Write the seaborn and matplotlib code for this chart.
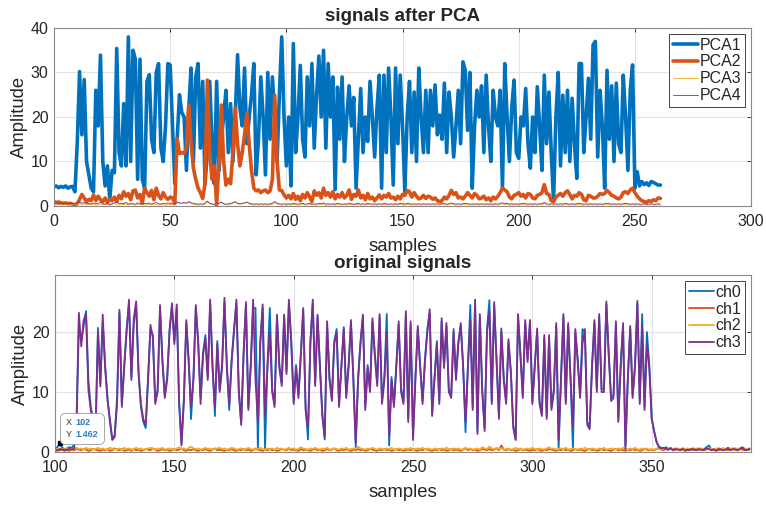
import numpy as np
import pandas as pd
import seaborn as sns
import matplotlib.pyplot as plt
from matplotlib.offsetbox import TextArea, HPacker, VPacker, AnnotationBbox

# ---- signals after PCA (sample 0..261) ----
pca1 = [4.3, 4.5, 4.1, 4.4, 4.2, 4.5, 4.0, 4.3, 4.4, 3.2,
        14, 30.2, 16, 28.4, 10, 7, 4, 3.2, 26, 18,
        33.9, 10, 4.5, 9, 1.5, 8, 7.5, 35.4, 12, 9,
        23, 9, 38, 10, 35, 33, 6, 33, 6, 4,
        28, 29.5, 15, 12, 30, 32, 13, 10, 18, 32,
        31.7, 18, 5, 15, 25, 21, 20, 8, 22, 31,
        10, 29, 32, 13, 28, 5, 12, 28, 15, 5,
        28, 8, 15, 20, 26, 12, 23, 10, 20, 34,
        22, 18, 31, 14, 20, 25, 32, 7, 15, 29,
        20, 7, 30, 15, 29, 20, 10, 25, 38, 20,
        9, 20, 4.5, 36.5, 12, 20, 31.6, 15, 11, 29,
        18, 32, 13, 25, 33.7, 20, 35, 13, 32, 20,
        29, 3.7, 26.7, 15, 29, 10, 20, 27, 18, 24.4,
        4, 15, 26.4, 12, 20, 14.5, 28, 20, 11, 22,
        29.4, 4, 29.4, 12, 31, 20, 4.7, 31, 14, 29.4,
        18, 3.2, 20, 28, 12, 25.6, 10, 31, 20, 12,
        26, 12, 26, 18, 27.2, 16, 20.4, 15, 27.6, 12,
        25.6, 20, 11, 18, 26, 14, 32.4, 30.5, 17, 30,
        4, 18, 26, 20, 27, 12, 29.4, 18, 10, 26,
        20, 18, 26, 4, 32, 20, 10, 22, 28.3, 12,
        10.7, 20, 18, 26.4, 14, 8.5, 20, 12, 26.8, 18,
        8, 29.4, 14, 25.6, 12, 1, 20, 30, 9, 24.9,
        12, 26, 10, 24.2, 14, 6.2, 32, 32, 12, 20,
        28.7, 15, 36.2, 37, 11, 26, 18, 4, 30.5, 15,
        27, 10, 27.6, 14, 12, 29.4, 20, 8, 26, 31.7,
        4, 7.7, 4.5, 5.5, 4.8, 5.2, 4.6, 5.5, 5.3, 5.0, 4.7, 4.7]

pca2 = [1.0, 0.8, 0.9, 0.7, 0.6, 0.7, 0.5, 0.6, 0.4, 0.3,
        0.5, 1.5, 2.6, 1.8, 1.0, 1.5, 1.2, 2.5, 1.2, 2.2,
        1.4, 1.0, 1.8, 0.8, 1.5, 1.2, 2.0, 1.0, 2.4, 1.6,
        3.2, 2.2, 2.8, 1.4, 3.4, 3.6, 1.8, 2.6, 0.6, 4.0,
        3.0, 2.2, 3.5, 1.4, 4.0, 2.4, 1.6, 3.0, 2.0, 1.5,
        2.0, 1.8, 0.6, 15.2, 11.8, 12.0, 11.8, 13.0, 22.7, 14.0,
        8.5, 6.0, 4.0, 3.0, 1.7, 5.0, 28.3, 12.0, 6.0, 9.0,
        0.2, 10.0, 22.7, 10.0, 4.7, 6.0, 5.0, 12.0, 22.0, 14.0,
        9.0, 12.0, 16.0, 20.8, 14.0, 8.0, 4.0, 3.4, 3.6, 3.0,
        3.4, 3.6, 3.0, 3.4, 6.0, 24.9, 10.0, 3.6, 3.5, 2.5,
        1.8, 2.4, 1.6, 2.8, 1.5, 2.2, 1.2, 2.6, 1.8, 3.0,
        2.0, 1.0, 3.4, 2.4, 3.0, 1.8, 4.0, 2.4, 3.0, 2.0,
        3.2, 1.6, 2.6, 2.0, 3.0, 1.8, 2.4, 3.6, 1.5, 2.6,
        2.2, 3.6, 1.8, 2.4, 1.4, 2.8, 1.6, 2.0, 1.2, 1.8,
        2.5, 1.6, 2.4, 2.0, 2.8, 1.8, 2.0, 1.4, 2.2, 1.6,
        2.6, 2.4, 3.5, 3.2, 2.0, 3.0, 2.2, 1.6, 1.8, 2.4,
        1.7, 2.2, 2.0, 1.5, 1.8, 1.2, 1.0, 1.2, 2.0, 1.6,
        2.4, 3.5, 2.6, 3.0, 1.8, 2.0, 1.6, 2.2, 3.0, 2.4,
        1.8, 2.8, 2.4, 1.6, 1.8, 2.2, 1.4, 1.8, 1.2, 2.0,
        1.6, 2.2, 3.0, 4.0, 3.6, 3.2, 2.0, 1.6, 2.4, 2.6,
        3.0, 2.2, 2.6, 1.8, 2.8, 2.6, 1.8, 1.6, 2.4, 2.6,
        3.0, 4.8, 2.8, 2.6, 1.2, 1.0, 2.0, 2.4, 2.8, 2.2,
        3.0, 3.4, 2.6, 1.6, 2.4, 2.2, 3.0, 2.6, 1.4, 1.2,
        2.4, 2.2, 1.8, 1.8, 2.2, 2.8, 2.6, 2.8, 3.5, 3.0,
        2.4, 2.2, 1.8, 1.6, 2.0, 3.0, 3.2, 2.8, 3.6, 4.0,
        3.0, 2.2, 1.6, 1.2, 1.0, 0.8, 1.2, 1.0, 1.4, 1.2, 1.8, 1.7]

pca3 = [0.3, 0.2, 0.4, 0.3, 0.2, 0.3, 0.4, 0.2, 0.3, 0.3,
        0.4, 0.6, 0.3, 0.5, 0.2, 0.4, 0.3, 0.5, 0.2, 0.3,
        0.4, 0.2, 0.5, 0.3, 0.2, 0.4, 0.6, 0.3, 0.2, 0.4,
        0.3, 0.5, 0.2, 0.4, 0.3, 0.2, 0.5, 0.3, 0.4, 0.2,
        0.3, 0.4, 0.2, 0.5, 0.3, 0.2, 0.4, 0.3, 0.2, 0.3,
        0.4, 0.3, 0.2, 0.8, 0.6, 0.5, 0.7, 0.6, 0.9, 0.5,
        0.4, 0.3, 0.2, 0.3, 0.2, 0.4, 1.0, 0.5, 0.3, 0.2,
        0.4, 0.5, 0.8, 0.4, 0.3, 0.2, 0.4, 0.6, 0.9, 0.5,
        0.4, 0.5, 0.6, 0.8, 0.5, 0.3, 0.2, 0.3, 0.2, 0.3,
        0.2, 0.3, 0.2, 0.3, 0.4, 0.9, 0.5, 0.3, 0.2, 0.3,
        0.2, 0.3, 0.2, 0.4, 0.3, 0.2, 0.3, 0.4, 0.2, 0.3,
        0.4, 0.2, 0.3, 0.2, 0.4, 0.3, 0.5, 0.2, 0.3, 0.2,
        0.3, 0.2, 0.4, 0.3, 0.2, 0.3, 0.2, 0.4, 0.3, 0.2,
        0.3, 0.4, 0.2, 0.3, 0.2, 0.4, 0.3, 0.2, 0.3, 0.2,
        0.3, 0.2, 0.4, 0.3, 0.2, 0.3, 0.2, 0.3, 0.2, 0.4,
        0.3, 0.2, 0.4, 0.3, 0.2, 0.3, 0.2, 0.3, 0.2, 0.3,
        0.2, 0.3, 0.2, 0.3, 0.2, 0.3, 0.2, 0.4, 0.3, 0.2,
        0.3, 0.5, 0.3, 0.2, 0.3, 0.2, 0.3, 0.4, 0.3, 0.2,
        0.3, 0.2, 0.3, 0.2, 0.3, 0.2, 0.3, 0.2, 0.3, 0.2,
        0.3, 0.2, 0.4, 0.5, 0.3, 0.4, 0.2, 0.3, 0.2, 0.3,
        0.2, 0.3, 0.4, 0.3, 0.2, 0.3, 0.2, 0.3, 0.2, 0.3,
        0.3, 0.6, 0.3, 0.2, 0.3, 0.2, 0.3, 0.2, 0.3, 0.2,
        0.4, 0.3, 0.2, 0.3, 0.2, 0.3, 0.4, 0.3, 0.2, 0.3,
        0.2, 0.3, 0.2, 0.3, 0.2, 0.3, 0.2, 0.3, 0.4, 0.3,
        0.2, 0.3, 0.2, 0.3, 0.2, 0.3, 0.4, 0.3, 0.2, 0.3,
        0.2, 0.3, 0.2, 0.2, 0.3, 0.2, 0.2, 0.3, 0.2, 0.2, 0.3, 0.2]

pca4 = [0.5, 0.6, 0.4, 0.5, 0.6, 0.5, 0.4, 0.6, 0.5, 0.4,
        0.7, 0.9, 0.6, 0.8, 0.5, 0.6, 0.4, 0.7, 0.5, 0.6,
        0.8, 0.5, 0.4, 0.6, 0.3, 0.5, 0.7, 0.9, 0.5, 0.6,
        0.5, 0.8, 0.4, 0.6, 0.5, 0.4, 0.7, 0.5, 0.4, 0.6,
        0.5, 0.7, 0.4, 0.6, 0.8, 0.5, 0.4, 0.6, 0.5, 0.7,
        0.6, 0.5, 0.4, 0.9, 0.7, 0.6, 0.8, 0.6, 1.0, 0.7,
        0.6, 0.5, 0.4, 0.5, 0.4, 0.6, 1.1, 0.6, 0.5, 0.3,
        0.5, 0.6, 0.9, 0.5, 0.4, 0.5, 0.6, 0.7, 1.0, 0.6,
        0.5, 0.6, 0.7, 0.9, 0.6, 0.5, 0.4, 0.5, 0.4, 0.5,
        0.4, 0.5, 0.4, 0.5, 0.6, 1.0, 0.6, 0.5, 0.4, 0.5,
        0.4, 0.5, 0.4, 0.6, 0.5, 0.4, 0.5, 0.6, 0.4, 0.5,
        0.6, 0.4, 0.5, 0.4, 0.6, 0.5, 0.7, 0.4, 0.5, 0.4,
        0.5, 0.4, 0.6, 0.5, 0.4, 0.5, 0.4, 0.6, 0.5, 0.4,
        0.5, 0.6, 0.4, 0.5, 0.4, 0.6, 0.5, 0.4, 0.5, 0.4,
        0.5, 0.4, 0.6, 0.5, 0.4, 0.5, 0.4, 0.5, 0.4, 0.6,
        0.5, 0.4, 0.6, 0.5, 0.4, 0.5, 0.4, 0.5, 0.4, 0.5,
        0.4, 0.5, 0.4, 0.5, 0.4, 0.5, 0.4, 0.6, 0.5, 0.4,
        0.5, 0.7, 0.5, 0.4, 0.5, 0.4, 0.5, 0.6, 0.5, 0.4,
        0.5, 0.4, 0.5, 0.4, 0.5, 0.4, 0.5, 0.4, 0.5, 0.4,
        0.5, 0.4, 0.6, 0.7, 0.5, 0.6, 0.4, 0.5, 0.4, 0.5,
        0.4, 0.5, 0.6, 0.5, 0.4, 0.5, 0.4, 0.5, 0.4, 0.5,
        0.5, 0.8, 0.5, 0.4, 0.5, 0.4, 0.5, 0.4, 0.5, 0.4,
        0.6, 0.5, 0.4, 0.5, 0.4, 0.5, 0.6, 0.5, 0.4, 0.5,
        0.4, 0.5, 0.4, 0.5, 0.4, 0.5, 0.4, 0.5, 0.6, 0.5,
        0.4, 0.5, 0.4, 0.5, 0.4, 0.5, 0.6, 0.5, 0.4, 0.5,
        0.4, 0.5, 0.4, 0.4, 0.5, 0.4, 0.4, 0.5, 0.4, 0.4, 0.5, 0.4]

# ---- original signals (sample 100..391) ----
ch0 = [0.6, 0.8, 1.462, 0.7, 0.5, 0.6, 0.8, 0.7, 1.2, 4.0,
       21.0, 18.5, 21.0, 23.5, 12.0, 7.5, 5.5, 3.0, 20.7, 11.5,
       21.5, 14.5, 9.0, 5.0, 2.2, 2.8, 9.0, 23.2, 8.0, 14.5,
       20.5, 24.8, 12.5, 21.5, 24.5, 13.5, 7.5, 5.0, 4.0, 12.5,
       20.5, 19.5, 8.5, 10.5, 23.8, 15.5, 9.5, 12.5, 20.5, 24.2,
       18.5, 24.0, 8.5, 1.5, 9.0, 21.5, 15.5, 5.5, 12.5, 24.0,
       18.5, 9.0, 16.5, 19.5, 12.5, 24.8, 14.5, 6.0, 18.5, 10.5,
       14.5, 25.0, 14.5, 7.0, 15.5, 20.5, 24.8, 10.5, 5.0, 16.5,
       24.5, 7.5, 14.5, 24.0, 24.0, 0.5, 18.5, 24.0, 0.5, 14.5,
       24.0, 10.5, 8.0, 22.5, 14.5, 11.5, 22.5, 13.5, 24.8, 18.5,
       8.5, 14.5, 9.5, 16.5, 23.5, 7.5, 2.1, 18.5, 24.8, 11.5,
       22.5, 14.5, 6.5, 2.1, 21.2, 12.5, 9.0, 18.5, 20.5, 8.0,
       14.5, 20.5, 9.5, 14.5, 21.5, 12.5, 0.8, 12.5, 18.5, 22.5,
       7.5, 14.5, 10.5, 21.8, 16.5, 11.5, 22.5, 8.5, 12.5, 23.0,
       1.1, 12.5, 8.0, 14.5, 21.2, 10.5, 8.5, 23.0, 5.5, 21.2,
       2.5, 12.5, 20.5, 14.5, 8.5, 15.5, 20.5, 23.2, 6.5, 12.5,
       18.5, 8.5, 21.8, 14.5, 21.0, 10.5, 9.5, 20.5, 12.5, 18.5,
       21.0, 14.5, 3.3, 14.5, 24.5, 7.5, 24.8, 3.5, 22.5, 10.5,
       4.0, 20.5, 25.3, 8.5, 24.5, 15.5, 6.0, 20.1, 12.5, 8.5,
       18.3, 13.5, 4.5, 2.1, 22.5, 16.5, 9.5, 21.5, 15.5, 21.5,
       8.5, 14.5, 20.1, 8.5, 6.5, 19.0, 6.0, 19.0, 7.5, 10.5,
       21.0, 0.5, 12.5, 22.5, 8.5, 21.0, 12.5, 0.5, 20.0, 15.5,
       9.5, 20.5, 20.0, 5.0, 4.2, 14.5, 21.5, 10.5, 22.5, 10.5,
       10.5, 24.6, 16.5, 9.0, 9.5, 21.3, 5.5, 14.5, 21.0, 1.0,
       12.5, 20.5, 9.5, 14.5, 24.7, 8.5, 23.0, 7.5, 20.0, 14.5,
       5.7, 3.5, 1.8, 0.9, 0.7, 0.6, 0.8, 0.5, 0.7, 0.4,
       0.6, 0.5, 0.4, 0.6, 0.3, 0.5, 0.4, 0.6, 0.5, 0.4,
       0.6, 0.4, 0.5, 0.8, 1.1, 0.4, 0.5, 0.3, 0.6, 0.5,
       0.4, 0.5, 0.7, 0.4, 0.6, 0.5, 0.4, 0.6, 0.8, 0.5, 0.4, 0.6]

ch1 = [0.3, 0.2, 0.3, 0.4, 0.2, 0.3, 0.2, 0.4, 0.3, 0.5,
       0.4, 0.3, 0.5, 0.4, 0.2, 0.3, 0.5, 0.4, 0.3, 0.2,
       0.4, 0.3, 0.5, 0.2, 0.3, 0.6, 0.4, 0.3, 0.5, 0.2,
       0.3, 0.4, 0.2, 0.5, 0.3, 0.4, 0.2, 0.3, 0.5, 0.4,
       0.3, 0.6, 0.4, 0.2, 0.3, 0.5, 0.3, 0.4, 0.2, 0.3,
       0.5, 0.3, 0.4, 0.6, 0.3, 0.2, 0.4, 0.3, 0.5, 0.3,
       0.2, 0.4, 0.3, 0.5, 0.3, 0.2, 0.4, 0.6, 0.3, 0.4,
       0.3, 0.2, 0.4, 0.3, 0.5, 0.3, 0.2, 0.4, 0.3, 0.5,
       0.3, 0.4, 0.2, 0.3, 0.5, 0.4, 0.3, 0.2, 0.4, 0.3,
       0.5, 0.3, 0.4, 0.2, 0.3, 0.5, 0.4, 0.3, 0.6, 0.3,
       0.4, 0.3, 0.2, 0.5, 0.3, 0.4, 0.3, 0.2, 0.4, 0.5,
       0.3, 0.4, 0.2, 0.3, 0.5, 0.3, 0.4, 0.6, 0.3, 0.2,
       0.4, 0.3, 0.5, 0.3, 0.2, 0.4, 0.3, 0.5, 0.3, 0.4,
       0.2, 0.3, 0.5, 0.4, 0.3, 0.2, 0.4, 0.3, 0.5, 0.3,
       0.4, 0.2, 0.3, 0.5, 0.3, 0.4, 0.2, 0.3, 0.4, 0.3,
       0.5, 0.3, 0.2, 0.4, 0.3, 0.5, 0.4, 0.3, 0.2, 0.4,
       0.3, 0.5, 0.3, 0.4, 0.2, 0.3, 0.5, 0.3, 0.4, 0.3,
       0.2, 0.4, 0.6, 0.3, 0.5, 0.3, 0.4, 0.2, 0.3, 0.5,
       0.4, 0.3, 0.5, 0.3, 0.4, 0.6, 0.3, 1.1, 0.4, 0.3,
       0.5, 0.3, 0.4, 0.2, 0.3, 0.5, 0.3, 0.4, 0.3, 0.2,
       0.4, 0.3, 0.5, 0.3, 0.2, 0.4, 0.3, 0.5, 0.4, 0.3,
       0.2, 0.4, 0.3, 0.5, 0.3, 0.4, 0.2, 0.3, 0.5, 0.3,
       0.4, 0.3, 0.2, 0.4, 0.5, 0.3, 0.4, 0.2, 0.3, 0.5,
       0.3, 0.4, 0.3, 0.2, 0.4, 0.5, 0.3, 0.4, 0.3, 0.2,
       0.4, 0.3, 0.5, 0.3, 0.4, 0.2, 0.3, 0.5, 0.4, 0.3,
       0.4, 0.3, 0.5, 0.6, 0.4, 0.3, 0.5, 0.4, 0.6, 0.3,
       0.4, 0.5, 0.3, 0.6, 0.4, 0.3, 0.5, 0.4, 0.3, 0.6,
       0.4, 0.5, 0.3, 0.4, 0.6, 0.3, 0.5, 0.4, 0.3, 0.5,
       0.6, 0.4, 0.3, 0.5, 0.4, 0.6, 0.3, 0.5, 0.4, 0.3, 0.5, 0.4]

ch2 = [0.5, 0.4, 0.6, 0.5, 0.4, 0.6, 0.5, 0.3, 0.6, 0.7,
       0.5, 0.6, 0.4, 0.7, 0.5, 0.6, 0.4, 0.5, 0.7, 0.5,
       0.6, 0.4, 0.5, 0.7, 0.6, 0.4, 0.5, 0.6, 0.4, 0.7,
       0.5, 0.6, 0.4, 0.5, 0.7, 0.5, 0.6, 0.4, 0.5, 0.6,
       0.7, 0.5, 0.4, 0.6, 0.5, 0.7, 0.4, 0.5, 0.6, 0.5,
       0.4, 0.6, 0.8, 0.5, 0.6, 0.4, 0.7, 0.9, 0.6, 0.5,
       0.6, 0.4, 0.5, 0.7, 0.5, 0.6, 0.4, 0.5, 0.6, 0.7,
       0.5, 0.6, 0.4, 0.5, 0.7, 0.6, 0.4, 0.5, 0.6, 0.4,
       0.5, 0.7, 0.5, 0.4, 0.6, 0.5, 0.7, 0.5, 0.4, 0.6,
       0.5, 0.6, 0.4, 0.7, 0.5, 0.6, 0.4, 0.5, 0.7, 0.5,
       0.6, 0.4, 0.5, 0.8, 0.6, 0.5, 0.4, 0.6, 0.5, 0.7,
       0.5, 0.4, 0.6, 0.5, 0.7, 0.4, 0.5, 0.6, 0.5, 0.4,
       0.6, 0.5, 0.7, 0.4, 0.5, 0.6, 0.5, 0.9, 0.6, 0.5,
       0.4, 0.6, 0.5, 0.7, 0.5, 0.4, 0.6, 0.5, 0.4, 0.6,
       0.5, 0.7, 0.4, 0.5, 0.6, 0.5, 0.4, 0.6, 0.5, 0.7,
       0.4, 0.5, 0.6, 0.5, 0.7, 0.4, 0.6, 0.5, 0.4, 0.6,
       0.5, 0.4, 0.6, 0.5, 0.7, 0.5, 0.4, 0.6, 0.5, 0.6,
       0.4, 0.5, 0.7, 0.5, 0.6, 0.4, 0.5, 0.6, 0.4, 0.8,
       0.6, 0.5, 0.9, 0.6, 0.5, 0.7, 0.5, 0.6, 0.4, 0.5,
       0.6, 0.4, 0.5, 0.7, 0.5, 0.6, 0.4, 0.5, 0.6, 0.5,
       0.7, 0.5, 0.4, 0.6, 0.5, 0.4, 0.6, 0.8, 0.5, 0.6,
       0.4, 0.5, 0.6, 0.5, 0.7, 0.4, 0.5, 0.6, 0.5, 0.4,
       0.6, 0.5, 0.7, 0.5, 0.4, 0.6, 0.5, 0.4, 0.6, 0.5,
       0.7, 0.4, 0.5, 0.6, 0.5, 0.4, 0.6, 0.5, 0.7, 0.5,
       0.4, 0.6, 0.5, 0.7, 0.5, 0.4, 0.6, 0.5, 0.6, 0.4,
       0.5, 0.4, 0.6, 0.5, 0.4, 0.6, 0.5, 0.4, 0.6, 0.5,
       0.4, 0.6, 0.5, 0.4, 0.5, 0.6, 0.4, 0.5, 0.6, 0.4,
       0.5, 0.6, 0.4, 0.5, 0.6, 0.5, 0.4, 0.6, 0.5, 0.4,
       0.6, 0.5, 0.4, 0.6, 0.5, 0.4, 0.6, 0.5, 0.4, 0.6, 0.5, 0.4]

ch3 = [0.4, 0.3, 0.5, 0.4, 0.3, 0.4, 0.5, 0.4, 0.6, 5.0,
       23.2, 17.6, 22.0, 23.0, 10.3, 7.0, 4.7, 3.5, 20.0, 10.9,
       22.9, 14.0, 8.7, 5.5, 2.0, 2.5, 8.0, 23.7, 7.5, 14.0,
       20.0, 25.4, 12.0, 22.3, 25.1, 13.0, 8.0, 5.5, 4.5, 12.0,
       21.2, 19.0, 8.0, 10.0, 24.5, 15.0, 9.0, 12.0, 20.0, 24.8,
       18.0, 24.6, 8.0, 1.1, 8.5, 22.0, 15.0, 7.5, 12.0, 24.5,
       18.0, 8.0, 16.0, 19.0, 12.0, 25.4, 14.0, 7.5, 18.0, 10.0,
       14.0, 25.7, 14.0, 7.8, 15.0, 20.0, 25.4, 10.0, 4.5, 16.0,
       25.0, 7.0, 14.0, 25.4, 12.0, 5.0, 18.0, 24.6, 6.0, 14.0,
       20.0, 10.0, 7.5, 22.9, 14.0, 11.0, 22.9, 13.0, 25.4, 18.0,
       8.0, 14.0, 9.0, 16.0, 24.0, 7.0, 4.0, 18.0, 25.4, 11.0,
       22.9, 14.0, 6.0, 2.5, 21.8, 12.0, 8.5, 18.0, 20.0, 7.5,
       14.0, 20.8, 9.0, 14.0, 22.0, 12.0, 1.5, 12.0, 18.0, 22.9,
       7.0, 14.0, 10.0, 22.3, 16.0, 11.0, 23.0, 8.0, 12.0, 20.0,
       2.5, 12.0, 7.5, 14.0, 21.8, 10.0, 8.0, 23.5, 5.0, 21.8,
       2.0, 12.0, 21.0, 14.0, 8.0, 15.0, 20.0, 23.8, 6.0, 12.0,
       18.0, 8.0, 22.3, 14.0, 21.5, 10.0, 9.0, 20.0, 12.0, 18.0,
       21.5, 14.0, 5.0, 14.0, 22.0, 7.0, 25.4, 3.0, 23.0, 10.0,
       3.5, 20.0, 23.5, 8.0, 25.0, 15.0, 5.5, 20.6, 12.0, 8.0,
       18.8, 13.0, 4.0, 2.0, 23.0, 16.0, 9.0, 22.0, 15.0, 22.0,
       8.0, 14.0, 20.6, 8.0, 6.0, 19.5, 5.5, 19.5, 7.0, 10.0,
       21.5, 2.0, 12.0, 23.0, 8.0, 21.5, 12.0, 4.0, 20.5, 15.0,
       9.0, 18.0, 20.5, 4.5, 3.8, 14.0, 22.0, 10.0, 23.0, 10.0,
       10.0, 25.1, 16.0, 8.5, 9.0, 21.8, 5.0, 14.0, 21.5, 0.5,
       12.0, 21.0, 9.0, 14.0, 25.2, 8.0, 21.0, 7.0, 18.0, 14.0,
       5.5, 3.5, 1.7, 0.8, 0.6, 0.7, 0.5, 0.4, 0.6, 0.3,
       0.5, 0.4, 0.3, 0.5, 0.2, 0.4, 0.3, 0.5, 0.4, 0.3,
       0.5, 0.3, 0.4, 0.6, 0.5, 0.3, 0.4, 0.2, 0.5, 0.4,
       0.3, 0.4, 0.6, 0.3, 0.5, 0.4, 0.3, 0.5, 0.6, 0.4, 0.3, 0.5]

pca_names = ["PCA1", "PCA2", "PCA3", "PCA4"]
ch_names = ["ch0", "ch1", "ch2", "ch3"]
colors = ["#0072BD", "#D95319", "#EDB120", "#7E2F8E"]
tip_x, tip_y = 102, 1.462

sns.set_theme(style="whitegrid")
plt.rcParams["font.family"] = ["Liberation Sans", "DejaVu Sans"]
plt.rcParams["text.color"] = "#262626"

top = pd.DataFrame({n: v for n, v in zip(pca_names, [pca1, pca2, pca3, pca4])})
top["samples"] = np.arange(len(pca1))
bot = pd.DataFrame({n: v for n, v in zip(ch_names, [ch0, ch1, ch2, ch3])})
bot["samples"] = np.arange(len(ch0)) + 100

fig = plt.figure(figsize=(7.66, 5.08), dpi=100)
ax1 = fig.add_axes([0.0705, 0.5945, 0.910, 0.3504])
ax2 = fig.add_axes([0.0718, 0.1102, 0.9086, 0.3484])

widths = [2.6, 2.6, 0.6, 0.6]
for name, c, lw in zip(pca_names, colors, widths):
    sns.lineplot(data=top, x="samples", y=name, color=c, linewidth=lw, label=name, ax=ax1)

for name, c in zip(ch_names, colors):
    sns.lineplot(data=bot, x="samples", y=name, color=c, linewidth=1.3, label=name, ax=ax2)

def style(ax, title):
    ax.set_title(title, fontsize=13.5, fontweight="bold", pad=5)
    ax.set_xlabel("samples", fontsize=13.3, labelpad=6)
    ax.set_ylabel("Amplitude", fontsize=13.3, labelpad=2)
    ax.grid(True, color="#e3e3e3", linewidth=0.8)
    for s in ax.spines.values():
        s.set_color("#8a8a8a")
        s.set_linewidth(0.8)
    ax.tick_params(axis="both", labelsize=11.5, colors="#262626", direction="in",
                   length=3, width=0.6, top=True, right=True, pad=4)
    ax.tick_params(axis="x", pad=6)
    leg = ax.legend(loc="upper right", fontsize=11.5, frameon=True, fancybox=False,
                    edgecolor="#262626", framealpha=1, handlelength=1.6,
                    handletextpad=0.1, labelspacing=0.12, borderpad=0.25,
                    borderaxespad=0.35)
    leg.get_frame().set_linewidth(0.6)

style(ax1, "signals after PCA")
ax1.set_xlim(0, 300)
ax1.set_ylim(0, 40)
ax1.set_xticks([0, 50, 100, 150, 200, 250, 300])
ax1.set_yticks([0, 10, 20, 30, 40])
ax1.xaxis.labelpad = 6

style(ax2, "original signals")
ax2.set_xlim(100, 391.6)
ax2.set_ylim(0, 29.5)
ax2.set_xticks([100, 150, 200, 250, 300, 350])
ax2.set_yticks([0, 10, 20])

# data tip: one box, dark labels + blue values
ax2.plot([tip_x], [tip_y], marker="s", color="black", markersize=2.5)
lab = dict(fontsize=6.5, color="#333333")
val = dict(fontsize=6.5, color="#2a7ec8", fontweight="bold")
row_x = HPacker(children=[TextArea("X", textprops=lab), TextArea(str(tip_x), textprops=val)],
                sep=3, pad=0)
row_y = HPacker(children=[TextArea("Y", textprops=lab), TextArea(str(tip_y), textprops=val)],
                sep=3, pad=0)
tip_box = VPacker(children=[row_x, row_y], sep=2, pad=0, align="left")
ab = AnnotationBbox(tip_box, (tip_x, tip_y), xybox=(4, 3), xycoords="data",
                    boxcoords="offset points", box_alignment=(0, 0), pad=0.15,
                    bboxprops=dict(boxstyle="round,pad=0.35", fc="white", ec="#9a9a9a", lw=0.6))
ax2.add_artist(ab)

fig.savefig("out.png", dpi=100)
